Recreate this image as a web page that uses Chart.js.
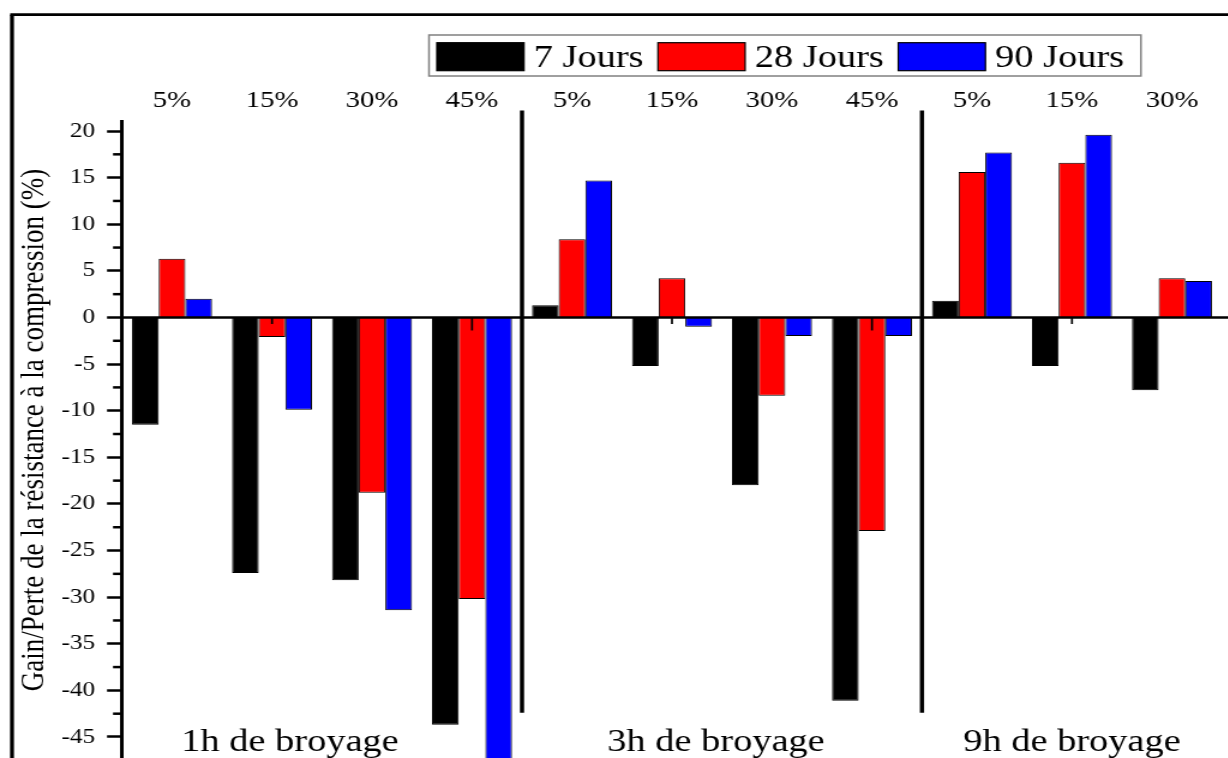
<!DOCTYPE html>
<html>
<head>
<meta charset="utf-8">
<script src="https://cdn.jsdelivr.net/npm/chart.js@4.4.0/dist/chart.umd.min.js"></script>
<style>
  html, body { margin: 0; padding: 0; overflow: hidden; background: #fff; }
  /* the source figure is stretched horizontally, so the canvas is drawn narrow and scaled */
  #wrap { width: 1024px; height: 762px; transform: scaleX(1.2); transform-origin: 0 0; }
</style>
</head>
<body>
<div id="wrap"><canvas id="chart" width="1024" height="762"></canvas></div>
<script>
// categories (addition %) and the three grinding times
const categories = ['5%', '15%', '30%', '45%', '5%', '15%', '30%', '45%', '5%', '15%', '30%'];
const groupNames = ['1h de broyage', '3h de broyage', '9h de broyage'];
const groupStart = [0, 4, 8];

const seriesNames = ['7 Jours', '28 Jours', '90 Jours'];
const jours7  = [-11.5, -27.4, -28.2, -43.7, 1.3, -5.2, -18.0, -41.1, 1.8, -5.2, -7.8];
const jours28 = [6.3, -2.1, -18.8, -30.2, 8.4, 4.2, -8.4, -22.9, 15.6, 16.6, 4.2];
const jours90 = [2.0, -9.9, -31.4, -48.0, 14.7, -1.0, -2.0, -2.0, 17.7, 19.6, 3.9];

const yTitle = 'Gain/Perte de la résistance à la compression (%)';

const serif = '"Liberation Serif", "Times New Roman", serif';

// extra drawing: zero axis, separators, group names, minor ticks, legend, frame
const decor = {
  id: 'decor',
  afterDatasetsDraw(chart) {
    const { ctx, chartArea } = chart;
    const x = chart.scales.x, y = chart.scales.y;
    const y0 = y.getPixelForValue(0);
    ctx.save();
    ctx.strokeStyle = '#000';

    // zero line
    ctx.lineWidth = 2.5;
    ctx.beginPath();
    ctx.moveTo(chartArea.left, y0);
    ctx.lineTo(chart.width, y0);
    ctx.stroke();

    // ticks of the x axis sitting on zero
    ctx.lineWidth = 1.7;
    for (let i = 1; i < categories.length; i += 2) {
      const len = (i % 4 === 3) ? 13 : 6.5;
      const px = x.getPixelForValue(i);
      ctx.beginPath();
      ctx.moveTo(px, y0);
      ctx.lineTo(px, y0 + len);
      ctx.stroke();
    }

    // separators between grinding times
    ctx.lineWidth = 3.5;
    for (let g = 1; g < groupStart.length; g++) {
      const px = x.getPixelForValue(groupStart[g] - 0.5);
      ctx.beginPath();
      ctx.moveTo(px, y.getPixelForValue(22.2));
      ctx.lineTo(px, y.getPixelForValue(-42.4));
      ctx.stroke();
    }

    // minor ticks on y
    ctx.lineWidth = 2.5;
    for (let v = y.min; v < y.max; v += 5) {
      const py = y.getPixelForValue(v);
      ctx.beginPath();
      ctx.moveTo(chartArea.left - 7.5, py);
      ctx.lineTo(chartArea.left, py);
      ctx.stroke();
    }

    // group names
    const labelAt = [1.18, 5.44, 9];
    ctx.fillStyle = '#000';
    ctx.font = '32px ' + serif;
    ctx.textAlign = 'center';
    ctx.textBaseline = 'alphabetic';
    groupNames.forEach((name, g) => {
      ctx.fillText(name, x.getPixelForValue(labelAt[g]), 751);
    });
    ctx.restore();
  },
  afterDraw(chart) {
    const { ctx } = chart;
    ctx.save();

    // outer frame (only left and top are inside the picture)
    ctx.strokeStyle = '#000';
    ctx.lineWidth = 3.3;
    ctx.beginPath();
    ctx.moveTo(10, chart.height);
    ctx.lineTo(10, 14.7);
    ctx.stroke();
    ctx.lineWidth = 2.7;
    ctx.beginPath();
    ctx.moveTo(8.5, 14.7);
    ctx.lineTo(chart.width, 14.7);
    ctx.stroke();

    // legend
    const boxLeft = 357.5;
    let cx = boxLeft + 6.5;
    ctx.font = '32px ' + serif;
    ctx.textAlign = 'left';
    ctx.textBaseline = 'alphabetic';
    chart.data.datasets.forEach(ds => {
      ctx.fillStyle = ds.backgroundColor;
      ctx.fillRect(cx, 42.7, 72.7, 28);
      ctx.lineWidth = 1.2;
      ctx.strokeStyle = '#000';
      ctx.strokeRect(cx, 42.7, 72.7, 28);
      cx += 72.7 + 8;
      ctx.fillStyle = '#000';
      ctx.fillText(ds.label, cx, 66.5);
      cx += ctx.measureText(ds.label).width + 12;
    });
    ctx.strokeStyle = '#808080';
    ctx.lineWidth = 1.5;
    ctx.strokeRect(boxLeft, 35, cx + 2 - boxLeft, 41);

    // y title
    ctx.translate(29.2, 430);
    ctx.rotate(-Math.PI / 2);
    ctx.font = '27px ' + serif;
    ctx.fillStyle = '#000';
    ctx.textAlign = 'center';
    ctx.textBaseline = 'middle';
    ctx.fillText(yTitle, 0, 0);
    ctx.restore();
  }
};

new Chart(document.getElementById('chart'), {
  type: 'bar',
  data: {
    labels: categories,
    datasets: [
      { label: seriesNames[0], data: jours7, backgroundColor: '#000000', borderColor: '#000', borderWidth: 1 },
      { label: seriesNames[1], data: jours28, backgroundColor: '#ff0000', borderColor: '#000', borderWidth: 1 },
      { label: seriesNames[2], data: jours90, backgroundColor: '#0000ff', borderColor: '#000', borderWidth: 1 }
    ]
  },
  options: {
    responsive: false,
    animation: false,
    events: [],
    layout: { padding: { left: 0, right: 5.7, top: 0, bottom: 1.7 } },
    datasets: { bar: { categoryPercentage: 0.8, barPercentage: 1.0 } },
    plugins: { legend: { display: false }, tooltip: { enabled: false } },
    scales: {
      x: {
        position: 'top',
        grid: { display: false, drawTicks: false },
        border: { display: false },
        ticks: { color: '#000', font: { family: serif, size: 24 }, padding: 6.3, maxRotation: 0, autoSkip: false },
        afterFit(s) { s.height = 121.7; s.paddingLeft = 0; s.paddingRight = 0; }
      },
      y: {
        min: -47.5,
        max: 21,
        grid: { drawOnChartArea: false, drawTicks: true, tickLength: 12.5, tickWidth: 2.5, tickColor: '#000' },
        border: { display: true, color: '#000', width: 3 },
        ticks: { stepSize: 5, includeBounds: false, color: '#000', font: { family: serif, size: 21 }, padding: 10 },
        afterFit(s) { s.width = 101.7; s.paddingTop = 0; s.paddingBottom = 0; }
      }
    }
  },
  plugins: [decor]
});
</script>
</body>
</html>
